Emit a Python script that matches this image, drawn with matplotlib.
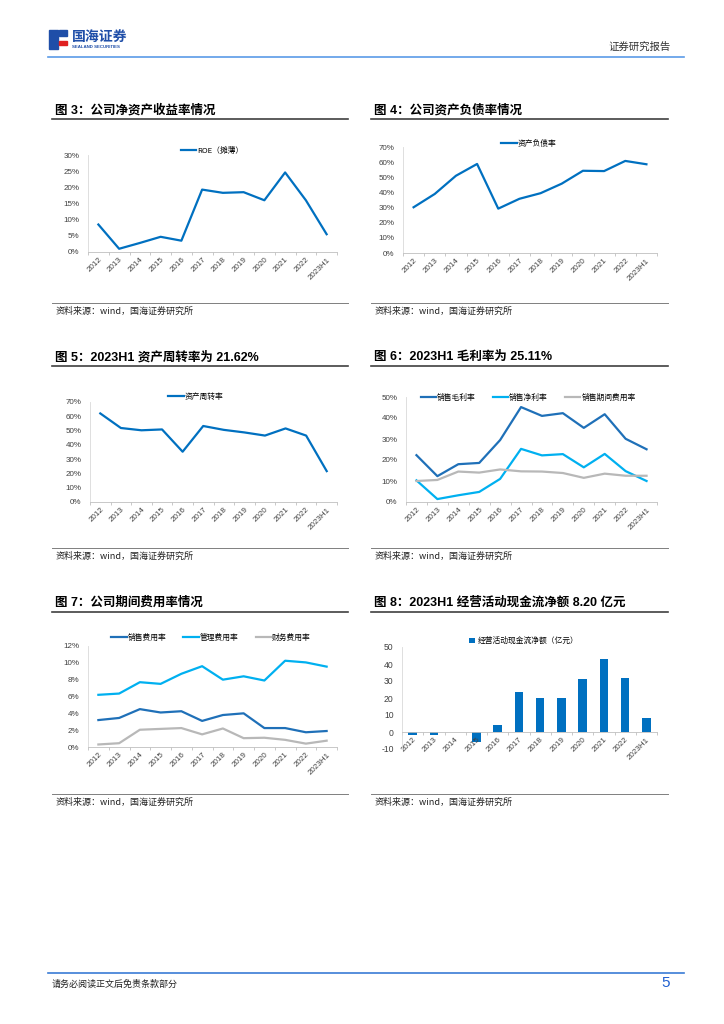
import matplotlib
matplotlib.use('Agg')
import matplotlib.pyplot as plt
from matplotlib.patches import Rectangle
from matplotlib.lines import Line2D
import numpy as np

plt.rcParams['font.family'] = ['Liberation Sans', 'Noto Sans CJK SC', 'DejaVu Sans']
plt.rcParams['axes.unicode_minus'] = False

W, H = 724, 1024

years = ['2012', '2013', '2014', '2015', '2016', '2017', '2018', '2019',
         '2020', '2021', '2022', '2023H1']

# Fig 3 - ROE (diluted), %
roe = [8.5, 1.0, 2.8, 4.7, 3.5, 19.3, 18.3, 18.5, 16.0, 24.6, 16.0, 5.5]
# Fig 4 - debt to asset ratio, %
debt_ratio = [30.2, 39.0, 51.0, 58.8, 29.3, 35.8, 39.5, 45.8, 54.3, 54.1, 60.8, 58.6]
# Fig 5 - asset turnover, %
turnover = [62.0, 51.8, 50.2, 50.8, 35.2, 53.2, 50.5, 48.7, 46.5, 51.5, 46.5, 21.62]
# Fig 6 - margins, %
gross_margin = [22.3, 12.3, 18.0, 18.6, 29.5, 45.2, 41.0, 42.3, 35.3, 41.8, 30.1, 25.11]
net_margin = [10.3, 1.4, 3.2, 4.8, 11.0, 25.3, 22.2, 22.8, 16.5, 22.9, 14.7, 10.0]
period_exp = [10.0, 10.5, 14.5, 14.0, 15.5, 14.6, 14.5, 13.8, 11.5, 13.5, 12.5, 12.5]
# Fig 7 - expense ratios, %
sell_exp = [3.2, 3.45, 4.5, 4.1, 4.25, 3.1, 3.8, 4.0, 2.25, 2.25, 1.75, 1.9]
admin_exp = [6.2, 6.35, 7.7, 7.5, 8.7, 9.6, 8.0, 8.4, 7.9, 10.25, 10.05, 9.55]
fin_exp = [0.3, 0.45, 2.05, 2.15, 2.25, 1.5, 2.2, 1.05, 1.1, 0.85, 0.4, 0.75]
# Fig 8 - operating cash flow, 100m CNY
ocf = [-1.5, -2.0, 0.2, -6.0, 4.0, 23.5, 20.2, 20.0, 31.2, 43.0, 31.8, 8.2]

DARK = '#1F70B8'
BLUE = '#0070C0'
LIGHT = '#00B0F0'
GREY = '#B8B8B8'
TICK_FS = 5.8

fig = plt.figure(figsize=(W / 100, H / 100), dpi=100)
fig.patch.set_facecolor('white')


def fx(x):
    return x / W


def fy(y):
    return 1 - y / H


def hline(x0, x1, y, color, lw):
    fig.add_artist(Line2D([fx(x0), fx(x1)], [fy(y), fy(y)], color=color, lw=lw,
                          transform=fig.transFigure))


def make_axes(x0, x1, ytop, ybot, zero_spine=False):
    ax = fig.add_axes([fx(x0), fy(ybot), fx(x1 - x0), (ybot - ytop) / H])
    for s in ['top', 'right']:
        ax.spines[s].set_visible(False)
    if zero_spine:
        ax.spines['bottom'].set_position(('data', 0))
    ax.spines['left'].set_color('#D9D9D9')
    ax.spines['left'].set_linewidth(0.6)
    ax.spines['bottom'].set_color('#BFBFBF')
    ax.spines['bottom'].set_linewidth(0.6)
    ax.set_xlim(-0.5, len(years) - 0.5)
    ax.set_xticks(np.arange(len(years)))
    ax.set_xticklabels(years, rotation=45, ha='right', rotation_mode='anchor',
                       fontsize=TICK_FS, color='#404040')
    ax.set_xticks(np.arange(len(years) + 1) - 0.5, minor=True)
    ax.tick_params(axis='x', which='major', length=0, pad=3)
    ax.tick_params(axis='x', which='minor', length=2.5, width=0.6, color='#BFBFBF')
    ax.tick_params(axis='y', length=0, labelsize=TICK_FS, labelcolor='#404040', pad=6)
    ax.patch.set_alpha(0)
    return ax


def pct_axis(ax, top, step):
    ax.set_ylim(0, top)
    ticks = np.arange(0, top + 0.01, step)
    ax.set_yticks(ticks)
    ax.set_yticklabels([f'{int(t)}%' for t in ticks])


def legend(handles, labels, x, y, gap=2.2):
    fig.legend(handles, labels, loc='center', bbox_to_anchor=(fx(x), fy(y)),
               ncol=len(labels), frameon=False, handlelength=2.0,
               handletextpad=0.1, columnspacing=gap,
               prop={'family': ['Noto Sans CJK SC', 'DejaVu Sans'], 'size': 5.6})


def section(x0, x1, y_title, title, y_src):
    fig.text(fx(x0 + 3), fy(y_title), title, fontsize=9, fontweight='bold',
             va='center', ha='left', family=['Liberation Sans', 'Noto Sans CJK SC'])
    hline(x0, x1, y_title + 9, '#404040', 1.2)
    hline(x0, x1, y_src - 8, '#7F7F7F', 0.7)
    fig.text(fx(x0 + 4), fy(y_src), '资料来源：wind，国海证券研究所', fontsize=6.5,
             va='center', ha='left', color='#222222',
             family=['Noto Sans CJK SC', 'DejaVu Sans'])


# header
hline(48, 684, 57, '#5B9BE8', 1.2)
fig.add_artist(Rectangle((fx(49), fy(49)), fx(9), 19 / H, color='#1F4EA8',
                         transform=fig.transFigure))
fig.add_artist(Rectangle((fx(59), fy(45)), fx(8), 4 / H, color='#E02020',
                         transform=fig.transFigure))
fig.add_artist(Rectangle((fx(59), fy(36)), fx(8), 6 / H, color='#1F4EA8',
                         transform=fig.transFigure))
fig.text(fx(72), fy(37), '国海证券', fontsize=10, fontweight='bold', color='#1F4EA8',
         va='center', ha='left', family=['Noto Sans CJK SC'])
fig.text(fx(72), fy(47), 'SEALAND SECURITIES', fontsize=3.2, fontweight='bold',
         color='#1F4EA8', va='center', ha='left')
fig.text(fx(671), fy(47), '证券研究报告', fontsize=7.5, va='center', ha='right',
         color='#333333', family=['Noto Sans CJK SC'])

# footer
hline(48, 684, 973, '#3A7BD5', 1.2)
fig.text(fx(52), fy(984), '请务必阅读正文后免责条款部分', fontsize=6.5, va='center',
         ha='left', color='#222222', family=['Noto Sans CJK SC'])
fig.text(fx(670), fy(983), '5', fontsize=11, va='center', ha='right', color='#1F5FD0')

# sections
section(52, 348, 110, '图 3：公司净资产收益率情况', 311)
section(371, 668, 110, '图 4：公司资产负债率情况', 311)
section(52, 348, 357, '图 5：2023H1 资产周转率为 21.62%', 556)
section(371, 668, 357, '图 6：2023H1 毛利率为 25.11%', 556)
section(52, 348, 603, '图 7：公司期间费用率情况', 802)
section(371, 668, 603, '图 8：2023H1 经营活动现金流净额 8.20 亿元', 802)

x = np.arange(len(years))

# Fig 3
ax3 = make_axes(88, 337, 155, 252)
l3, = ax3.plot(x, roe, color=BLUE, lw=1.6)
pct_axis(ax3, 30, 5)
legend([l3], ['ROE（摊薄）'], 212, 151)

# Fig 4
ax4 = make_axes(403, 657, 147, 253)
l4, = ax4.plot(x, debt_ratio, color=BLUE, lw=1.6)
pct_axis(ax4, 70, 10)
legend([l4], ['资产负债率'], 529, 144)

# Fig 5
ax5 = make_axes(90, 337, 402, 502)
l5, = ax5.plot(x, turnover, color=BLUE, lw=1.6)
pct_axis(ax5, 70, 10)
legend([l5], ['资产周转率'], 196, 397)

# Fig 6
ax6 = make_axes(406, 657, 397, 502)
a, = ax6.plot(x, gross_margin, color=DARK, lw=1.6)
b, = ax6.plot(x, net_margin, color=LIGHT, lw=1.6)
c, = ax6.plot(x, period_exp, color=GREY, lw=1.6)
pct_axis(ax6, 50, 10)
legend([a, b, c], ['销售毛利率', '销售净利率', '销售期间费用率'], 528, 398)

# Fig 7
ax7 = make_axes(88, 337, 646, 747)
a, = ax7.plot(x, sell_exp, color=DARK, lw=1.6)
b, = ax7.plot(x, admin_exp, color=LIGHT, lw=1.6)
c, = ax7.plot(x, fin_exp, color=GREY, lw=1.6)
pct_axis(ax7, 12, 2)
legend([a, b, c], ['销售费用率', '管理费用率', '财务费用率'], 211, 638)

# Fig 8
ax8 = make_axes(402, 657, 647, 749, zero_spine=True)
bars = ax8.bar(x, ocf, width=0.4, color=BLUE)
ax8.set_ylim(-10, 50)
ax8.set_yticks(np.arange(-10, 51, 10))
ax8.tick_params(axis='y', labelsize=6.2)
fig.legend([bars], ['经营活动现金流净额（亿元）'], loc='center',
           bbox_to_anchor=(fx(524), fy(641)), frameon=False, handlelength=0.7,
           handleheight=0.7, handletextpad=0.4,
           prop={'family': ['Noto Sans CJK SC', 'DejaVu Sans'], 'size': 5.6})

fig.savefig('out.png', dpi=100)
